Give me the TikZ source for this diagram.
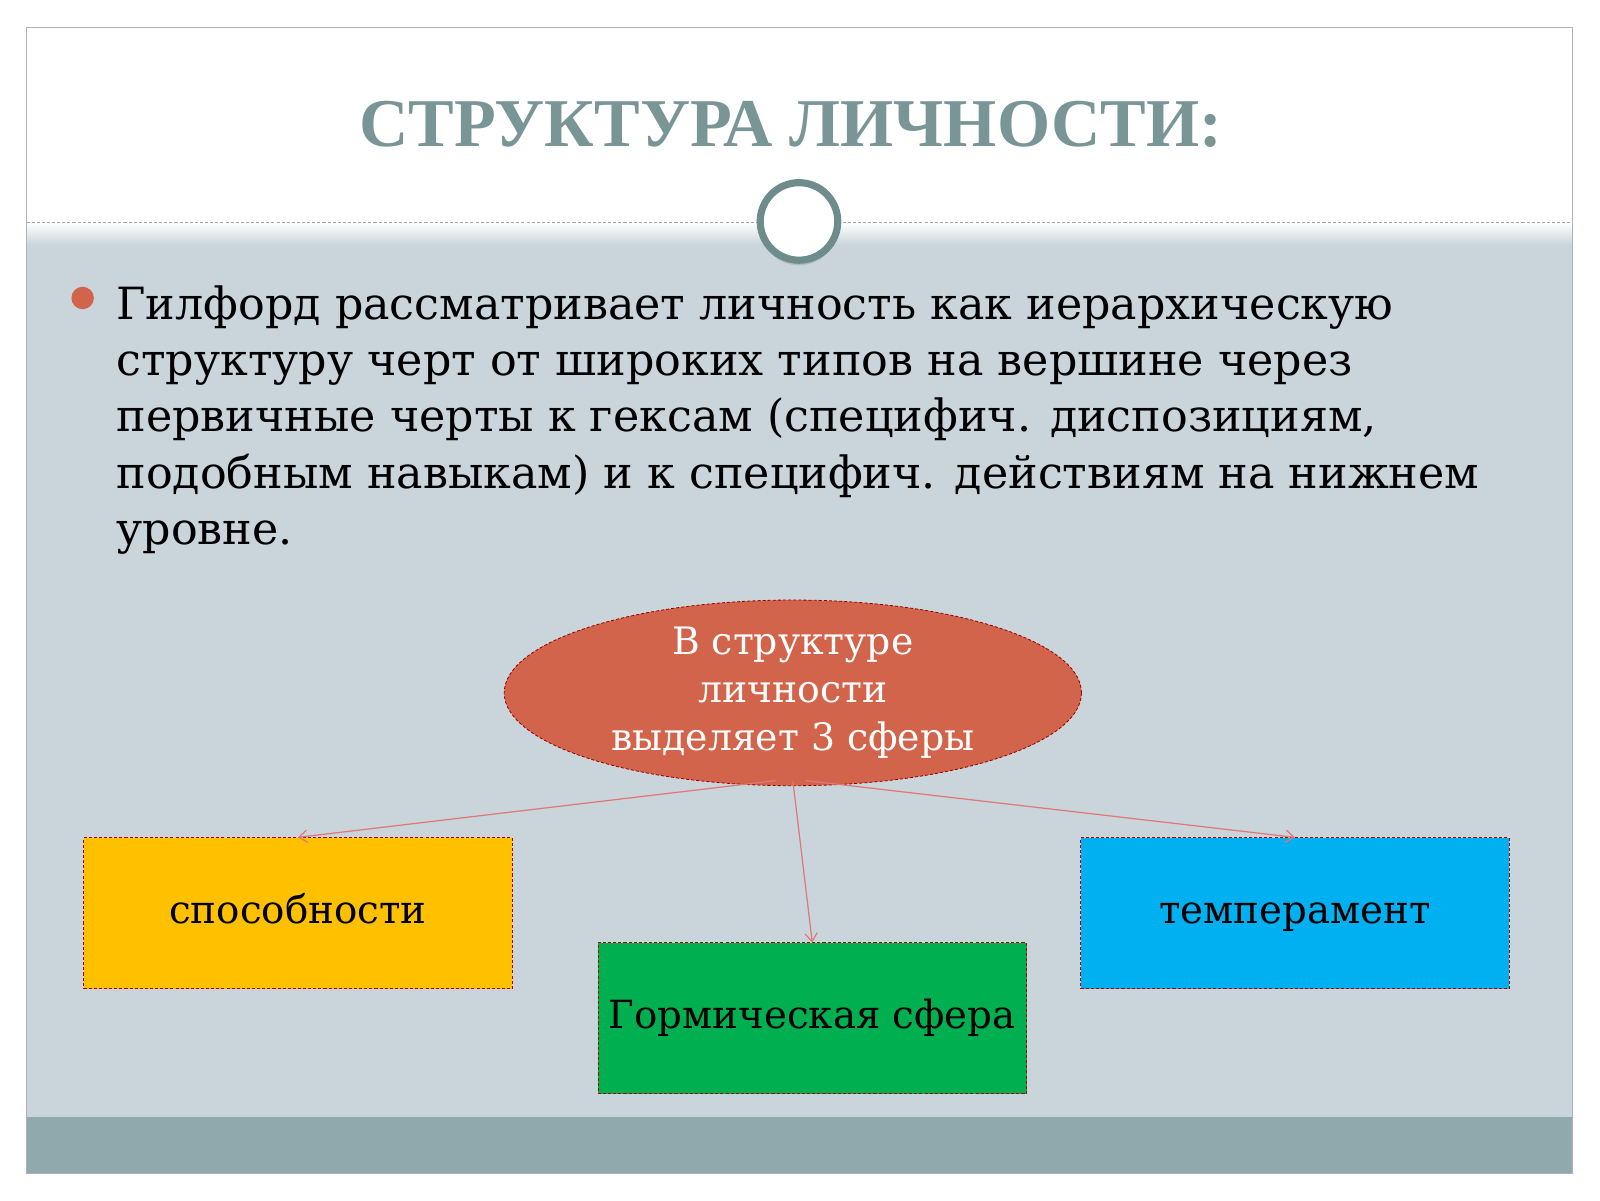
\documentclass[tikz,border=0pt]{standalone}
\usepackage{fontspec}
\setmainfont{DejaVu Serif}
\newfontfamily\titlefont{Liberation Serif}
\usetikzlibrary{shapes.geometric,arrows.meta,shadows}
\definecolor{bodybg}{HTML}{C9D5DA}
\definecolor{band}{HTML}{8FA9AC}
\definecolor{ttl}{HTML}{7A9596}
\definecolor{ring}{HTML}{6E8C8C}
\definecolor{ell}{HTML}{D2644B}
\definecolor{arr}{HTML}{E07878}
\tikzset{
 box/.style={draw=red!70!black, densely dashed, line width=0.8pt, minimum width=420pt, minimum height=148pt, text height=28pt, text depth=8pt, font=\fontsize{38}{44}\selectfont},
 conn/.style={draw=arr, line width=1.2pt, -{Straight Barb[length=8pt,width=12pt]}}
}
\begin{document}
\begin{tikzpicture}[x=1pt,y=-1pt]
\useasboundingbox (0,0) rectangle (1568,1176);
\fill[white] (0,0) rectangle (1568,1176);
\fill[bodybg] (26,230) rectangle (1541,1095);
\shade[top color=white, bottom color=bodybg] (26,218) rectangle (1541,240);
\fill[band] (26,1095) rectangle (1541,1150);
\draw[gray!60, line width=1pt] (26,27) rectangle (1541,1150);
\draw[gray!70, densely dashed, line width=0.6pt] (26,218) -- (1541,218);
\node[font=\titlefont\bfseries\fontsize{67}{80}\selectfont, text=ttl] (title) at (775,122) {СТРУКТУРА ЛИЧНОСТИ:};
\node[circle, fill=white, draw=ring, line width=7pt, minimum size=76pt, drop shadow={opacity=0.3, shadow xshift=0pt, shadow yshift=-5pt}] (ring) at (783,217) {};
\fill[ell] (81,292) circle (11pt);
\node[anchor=north west, align=left, inner sep=0pt, font=\fontsize{43.5}{55}\selectfont] (txt) at (114,280)
{Гилфорд рассматривает личность как иерархическую\\
структуру черт от широких типов на вершине через\\
первичные черты к гексам (специфич. диспозициям,\\
подобным навыкам) и к специфич. действиям на нижнем\\
уровне.};
\node[ellipse, fill=ell, draw=red!60!black, densely dashed, line width=0.8pt, minimum width=556pt, minimum height=172pt, inner sep=0pt, text=white, align=center, font=\fontsize{37}{47}\selectfont] (e) at (777,679) {\raisebox{-6pt}{\parbox{400pt}{\centering В структуре\\ личности\\ выделяет 3 сферы}}};
\node[box, fill={rgb,255:red,255;green,192;blue,0}] (a) at (292,895) {способности};
\node[box, fill={rgb,255:red,0;green,176;blue,80}] (b) at (796,998) {Гормическая сфера};
\node[box, fill={rgb,255:red,0;green,176;blue,240}] (c) at (1269,895) {темперамент};
\draw[conn] (760,765) -- (a.north);
\draw[conn] (777,765) -- (b.north);
\draw[conn] (790,765) -- (c.north);
\end{tikzpicture}
\end{document}
